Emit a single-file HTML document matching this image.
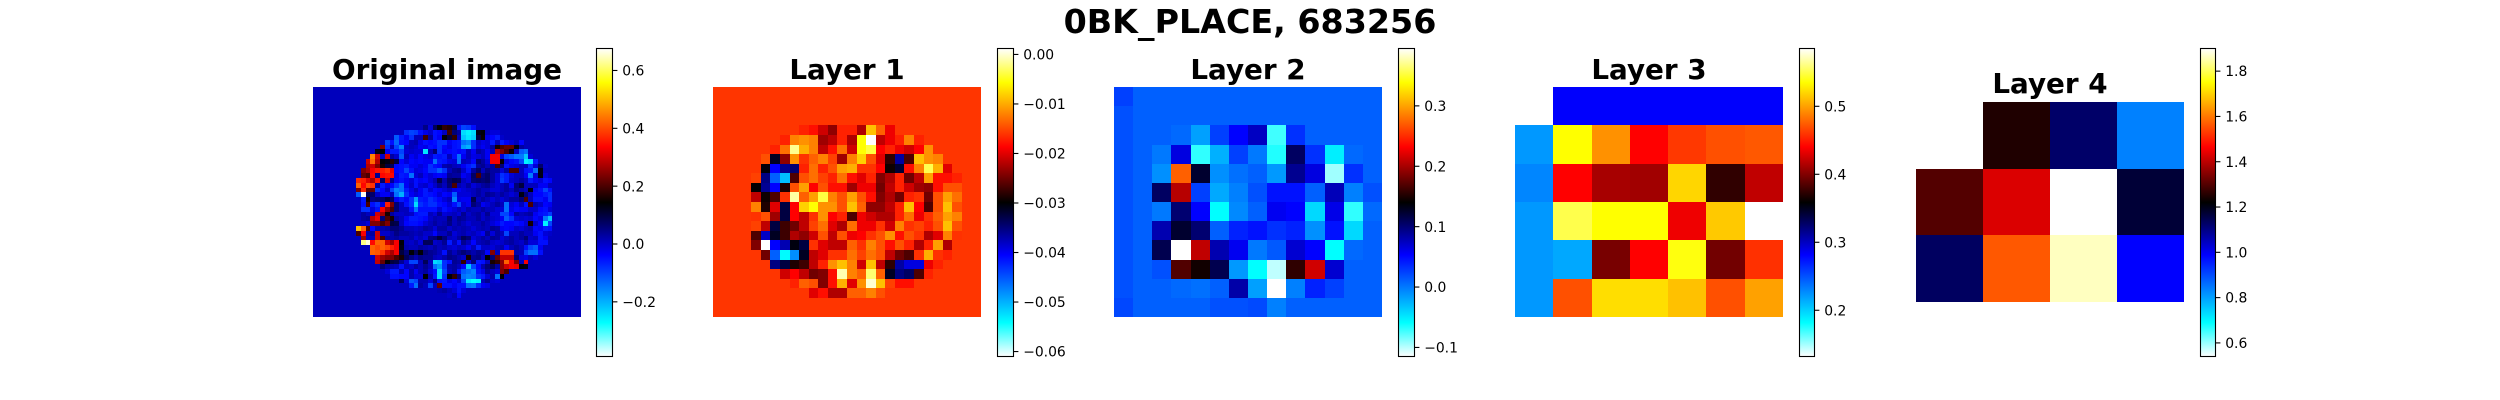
<!DOCTYPE html>
<html lang="en">
<head>
<meta charset="utf-8">
<title>0BK_PLACE, 683256</title>
<style>
html,body{margin:0;padding:0;background:#fff;width:2500px;height:400px;overflow:hidden}
svg{display:block}
text{font-family:"DejaVu Sans","Liberation Sans",sans-serif;fill:#000}
.title{font-weight:bold;font-size:27.8px;text-anchor:middle}
.sup{font-weight:bold;font-size:33.3px;text-anchor:middle}
.tick{font-size:13.9px}
</style>
</head>
<body>
<svg id="figure" width="2500" height="400" viewBox="0 0 2500 400" xmlns="http://www.w3.org/2000/svg">
<defs id="defs"></defs>
<text class="sup" x="1250" y="33">0BK_PLACE, 683256</text>
<text class="title" x="447" y="79">Original image</text>
<text class="title" x="847" y="79">Layer 1</text>
<text class="title" x="1248" y="79">Layer 2</text>
<text class="title" x="1649" y="79">Layer 3</text>
<text class="title" x="2050" y="93">Layer 4</text>
</svg>
<script>
// ---- Data: values ----
// Original image: 48 rows x 56 columns, values in hundredths. Cells outside a listed run hold the background value.
var originalBackground = 1;
var originalRowFirstRow = 8;
var originalRowStart = [21,19,17,15,14,13,12,11,11,10,10,9,9,9,9,10,10,10,10,10,10,9,9,10,10,12,12,13,13,14,15,16,18,20,25,27];
var originalRows = [
[1,1,5,-1,8,14,18,17,9,-5,-10,-9,-5],
[-8,-10,-9,-5,-2,0,-5,-4,1,19,6,3,-24,-26,-24,13,14,1,-1,-1],
[-12,-6,-3,-8,1,1,19,3,-5,-3,14,10,18,1,-22,-25,-23,10,15,-2,-4,-6,0],
[-10,-5,-13,-5,-4,1,2,-2,-5,-4,-5,-8,-8,-3,-5,-6,-14,-16,-8,0,-2,-1,-6,1,-6,-3,-1,1,-4],
[24,-8,1,-10,-16,0,1,0,-3,-2,-5,-4,-8,-4,-2,-5,-6,-18,-20,-8,-1,-3,-1,3,16,20,22,22,13,3],
[13,14,-3,-6,-6,-10,-1,0,-1,-1,-25,1,6,-8,-3,-4,-5,-4,-5,1,-3,3,1,-3,1,28,24,20,15,1,-12,-14],
[45,30,0,30,3,0,-12,1,-3,-1,-4,-2,-1,-6,-5,-6,1,-5,-14,-3,1,-2,-1,1,-3,33,33,-1,-10,-12,-15,-15,-22,-1],
[30,43,28,14,13,17,10,-4,-1,-4,-3,-4,-3,-3,-14,-6,-5,-2,-1,-14,1,0,-4,6,3,-1,33,33,15,-1,-4,-5,-10,-26,-24,-6],
[28,30,24,16,10,8,-4,-5,-6,-3,-3,-1,-3,-8,-5,-4,2,3,1,0,-3,-6,-8,3,4,1,3,20,6,-5,-2,-1,1,1,-8,-1,7,0],
[24,27,33,35,36,38,32,-4,-5,-10,-5,-1,-2,-4,-8,-8,-12,-8,1,4,5,0,-5,3,7,1,5,3,3,-1,3,20,20,1,-5,-6,-14,13,1],
[22,20,34,4,34,35,34,-2,-6,-5,-14,-1,1,-3,-1,-3,-4,-3,4,3,3,-3,-1,7,20,5,7,3,-1,-8,-6,-1,1,1,-3,-15,-1,13,-1],
[37,36,31,27,35,7,30,4,-3,-5,-3,-1,-5,-3,-4,-1,2,9,2,7,9,8,1,-1,6,7,6,7,3,-1,-9,-6,0,1,3,1,-6,-3,-1,-5,-4],
[42,34,40,38,3,-6,-2,-4,-9,-14,-3,0,-5,-1,0,-3,0,4,1,6,20,2,0,3,-1,1,3,4,1,-1,1,3,-3,6,10,1,1,1,-3,-3,1],
[24,37,22,22,-8,-4,1,-10,-16,-14,-6,-2,1,-3,-6,-1,-4,-3,-1,1,-2,-3,-1,0,1,3,1,1,-1,-1,1,3,1,5,3,1,14,-3,-5,-10,-5],
[-12,67,8,7,0,-3,-3,1,-14,-20,-8,-3,-1,-3,-6,-5,-4,-1,-4,-3,-12,-1,-1,-1,1,3,1,4,3,1,3,1,-1,1,13,6,1,-4,-4,-6,-8],
[-6,16,5,6,7,10,7,-3,-6,-4,-8,-18,-6,-5,-8,-6,-4,-1,1,-16,-2,-3,-3,9,1,3,1,-1,1,-1,1,3,3,6,20,1,-5,-5,-3,-8],
[-5,20,-5,-8,-1,36,24,6,1,-5,-8,-24,-8,-6,-8,-8,-5,-4,-1,-5,-10,-1,-3,6,3,-3,-1,1,3,1,-14,-1,-3,1,-5,20,2,0,-4,-3],
[-8,-8,-1,-5,33,25,20,6,1,1,-5,-14,-5,-5,-5,-5,-1,-5,-3,-1,1,-1,2,1,1,3,1,1,-1,-1,-14,-2,-4,-3,-3,0,0,-4,-5,-1],
[3,1,1,30,27,16,3,0,0,1,0,-5,-6,-6,1,-1,4,-1,0,1,-1,4,0,2,3,0,4,-1,-1,-10,-10,-4,3,1,2,3,-3,-5,-6,-9],
[3,4,28,32,6,20,16,3,1,-3,-6,-6,-5,-4,0,2,1,1,6,1,4,3,1,1,3,0,2,0,-1,-3,-12,-8,-1,0,-1,0,-4,-2,-15,-22],
[1,-1,24,24,20,24,10,9,1,-4,-5,-5,-4,-1,1,3,1,2,5,1,3,1,-1,1,1,3,1,-1,-3,-6,-4,-4,-5,-4,-1,16,0,-4,-26,-10],
[50,42,20,-4,2,2,3,6,6,4,1,1,0,1,3,2,-1,3,3,0,2,1,2,1,-1,1,2,1,4,3,-3,-4,-3,0,-1,1,2,-4,-3,-6,-5],
[20,33,2,3,30,0,0,2,5,3,3,2,1,2,0,0,-4,1,1,4,-1,1,2,0,1,-1,-3,4,-1,3,1,-10,1,1,3,1,1,-3,-5,-1,0],
[26,1,1,30,20,3,2,3,1,1,2,-1,1,-1,5,6,10,6,1,0,3,8,6,-1,1,3,1,4,3,-1,1,3,1,3,6,0,1,-5,-3],
[62,66,34,42,42,30,26,33,14,1,0,2,-1,8,8,0,1,4,-6,1,-5,4,1,-4,1,2,3,0,-1,0,2,3,1,0,3,-1,-1,-5,-5],
[42,40,42,40,36,33,13,2,1,1,3,2,1,3,1,2,0,-1,1,0,-3,1,-6,0,0,-1,1,2,-3,1,3,1,-5,-10,-12,-3],
[42,41,38,30,27,33,10,6,14,8,14,6,4,3,1,-5,4,1,4,6,4,2,4,3,-4,24,1,38,38,38,2,1,-10,-14,-14,-5],
[30,26,24,24,20,16,8,5,2,5,4,4,1,0,2,5,4,2,0,16,4,5,1,14,6,22,29,29,29,6,-1,-2,1,-1],
[29,22,14,10,9,4,-1,-10,-10,1,8,1,-24,-22,-8,-5,4,3,18,-1,6,-6,-5,1,16,18,25,42,33,24,1,33],
[6,3,2,1,-5,1,0,3,1,4,1,-14,-18,-8,2,3,1,-4,-22,-10,-4,2,6,8,3,25,30,33,32,14,13],
[-1,-6,-6,1,-4,2,-3,1,3,-1,-5,-24,-10,1,3,-5,-12,-14,-16,-5,-2,4,1,-1,24,20,1],
[-5,-5,-4,-4,2,-1,-1,14,2,-6,-24,-8,14,18,6,-14,-16,-15,-8,-6,-1,2,-14,14],
[8,-1,-12,-10,2,2,-1,5,-5,-6,-2,-4,-1,-10,-25,-27,-26,1,4,0,-1],
[-6,-14,3,1,-10,1,22,-5,-5,-3,-5,-5,-14,-15,-8,-3,-2],
[1,2,3,1,-1,-5,-1],
[1,0,2,-4]
];

// Layer 1: 24 rows x 28 columns, values in thousandths.
var layer1Background = -16;
var layer1FirstRow = 4;
var layer1RowStart = [9,7,6,5,5,4,4,4,4,4,4,4,4,5,6,7,8,10];
var layer1Rows = [
[-17,-18,-20.8,-23.6,-17,-17,-22.2,-8.8,-13.8,-19.4],
[-17,-12.1,-11.3,-12.1,-22.9,-21.5,-17,-22.2,-5.6,1.2,-21.5,-19.4,-17,-12.1,-17],
[-17,-13,-1.8,-9.7,-12.1,-21.5,-18,-13,-20.8,-5.6,-3.9,-18.7,-17,-19.4,-20.8,-18.7,-11.3],
[-14.6,-31.3,-23.6,-11.3,-16.2,-13.8,-12.1,-15.4,-22.9,-12.1,-8,-14.6,-20,-27.9,-36.6,-26.5,-8.8,-11.3,-12.1],
[-30.3,-40.5,-36,-34.6,-17,-13,-17,-14.6,-10.5,-9.7,-16.2,-16.2,-18.7,-29.3,-32,-18,-12.1,-3.5,-9.7,-20],
[-15.4,-35.3,-45.6,-50.7,-26.5,-14.6,-13,-15.4,-17,-13,-18,-20,-17,-24.3,-22.2,-17,-25,-21.5,-10.5,-18,-18,-17],
[-30,-36,-40.5,-28.6,-14.6,-10.5,-18.7,-14.6,-18,-18,-22.9,-19.4,-19.4,-25,-21.5,-17,-20.8,-22.9,-23.6,-18,-14.6,-14.6],
[-21.5,-29.3,-26.5,-16.2,-1.3,-13.8,-10.5,-3.9,-12.1,-14.6,-10.5,-14.6,-18,-24.3,-22.2,-25,-17,-16.2,-25,-14.6,-10.5,-13],
[-12.1,-28.6,-20,-32.6,-18.7,-8,-5.6,-11.3,-11.3,-14.6,-8.8,-13.8,-23.6,-23.6,-21.5,-17,-8.8,-18.7,-26.5,-14.6,-8.8,-14.6],
[-16.2,-14.6,-22.9,-32.6,-18.7,-21.5,-16.2,-11.3,-18.7,-17,-26.5,-19.4,-20.8,-22.2,-22.2,-17,-13,-19.4,-16.2,-13.8,-10.5,-12.1],
[-15.4,-21.5,-32.6,-27.2,-25,-21.5,-15.4,-13,-20,-22.2,-13,-19.4,-19.4,-16.2,-20.8,-12.1,-16.2,-15.4,-17,-14.6,-8.8,-14.6],
[-26.5,-38,-31.3,-27.2,-22.2,-23.6,-20.8,-14.6,-21.5,-14.6,-19.4,-18.7,-16.2,-14.6,-11.3,-18,-14.6,-16.2,-22.2,-20,-12.1,-16.2],
[-24.3,1.2,-40.5,-37.3,-30.5,-32.6,-16.2,-20,-21.5,-21.5,-13.8,-16.2,-12.1,-14.6,-18,-14.6,-17,-22.2,-17,-10.5,-22.2],
[-25,-45.6,-54,-48.1,-31.3,-21.5,-20,-16.2,-16.2,-13,-15.4,-13,-14.6,-21.5,-25,-26.5,-16.2,-9.7,-16.2,-17],
[-35.3,-32.6,-28.6,-27.2,-21.5,-17,-11.3,-8.8,-12.1,-20.8,-8.8,-21.5,-27.9,-36.6,-39.2,-39.2,-19.4,-17],
[-20.8,-18.7,-21.5,-25,-24.3,-18,-0.9,-12.1,-13.8,-2.6,-13.8,-31.3,-35.3,-34,-26.5,-17],
[-17,-13.8,-14.6,-24.3,-18,-9.7,-20,-11.3,0,-8.8,-15.4,-18,-18],
[-20,-18,-22.2,-22.2,-13.8,-13.8,-12.1,-14.6]
];

// Layer 2: 12 rows x 14 columns, values in hundredths.
var layer2Rows = [
[2.5,1.1,1.1,1.1,1.1,1.1,1.1,1.1,1.1,1.1,1.1,1.1,1.1,1.1],
[1.8,1.1,1.1,1.1,1.1,1.1,1.1,1.1,1.1,1.1,1.1,1.1,1.1,1.1],
[1.8,1.1,1.1,0.7,-1.7,2.5,5.3,7.4,-7.3,3.2,1.1,1.1,1.1,1.1],
[1.8,1.1,0,6.4,-6.95,-2.4,2.5,0,-6.6,10.7,3.2,-5.2,0.7,1.1],
[1.8,1.1,-1,27.2,12.4,-1,0.4,1.1,-1.4,9.1,6.4,-9.4,3.2,1.1],
[1.8,1.1,10.7,20.6,2.5,-2.1,-0.3,1.8,4.6,4.6,1.1,7.7,-0.3,1.8],
[1.8,1.1,0,10.2,5.3,-5.9,-0.7,1.1,5.8,5.3,-4.2,6.1,-6.95,0.7],
[1.8,1.1,8,12.4,10.2,1.1,3.9,4.6,3.2,3.9,-1,4.6,-4.2,1.1],
[1.8,1.1,11.3,39.5,20.9,8,5.8,0,1.4,6.9,5.3,-5.9,0.7,1.1],
[1.8,1.1,1.8,16.9,14.6,11.3,-1.4,-5.9,-10.1,15.7,21.5,6.9,1.1,1.1],
[1.8,1.1,1.1,0.7,0.4,1.1,8.3,-1.7,39.5,-0.3,3.9,2.5,1.1,1.1],
[2.2,1.1,1.1,1.1,1.1,1.8,1.8,2.1,-0.3,1.1,1.1,1.1,1.1,1.1]
];

// Layer 3: 6 rows x 7 columns, values in hundredths.
var layer3Rows = [
[58.5,28.2,28.2,28.2,28.2,28.2,28.2],
[22.2,53.5,49.4,44,46.1,47,47.3],
[22.9,44,41.2,41,52,37.4,42],
[22.2,55,53.5,53.5,43.5,51.5,58.5],
[22.2,21.6,39.7,44,53.8,39.5,45.8],
[22.2,47,52.3,52.3,51.2,47,50]
];

// Layer 4: 3 rows x 4 columns, values in plain units.
var layer4Rows = [
[1.9,1.25,1.126,0.838],
[1.3,1.43,1.9,1.17],
[1.133,1.563,1.863,0.989]
];

// Colour ranges (in plain units)
var originalRange = [-0.389,0.676];
var layer1Range = [-0.061,0.0012];
var layer2Range = [-0.115,0.395];
var layer3Range = [0.132,0.585];
var layer4Range = [0.54,1.9];

// Colour bar ticks
var originalTicks = [-0.2,0,0.2,0.4,0.6];
var originalTickLabels = ["\u22120.2","0.0","0.2","0.4","0.6"];
var layer1Ticks = [-0.06,-0.05,-0.04,-0.03,-0.02,-0.01,0];
var layer1TickLabels = ["\u22120.06","\u22120.05","\u22120.04","\u22120.03","\u22120.02","\u22120.01","0.00"];
var layer2Ticks = [-0.1,0,0.1,0.2,0.3];
var layer2TickLabels = ["\u22120.1","0.0","0.1","0.2","0.3"];
var layer3Ticks = [0.2,0.3,0.4,0.5];
var layer3TickLabels = ["0.2","0.3","0.4","0.5"];
var layer4Ticks = [0.6,0.8,1.0,1.2,1.4,1.6,1.8];
var layer4TickLabels = ["0.6","0.8","1.0","1.2","1.4","1.6","1.8"];

// Colormap: cold (low) to hot (high)
var cmapPositions = [0,0.11,0.33,0.5,0.68,0.89,1];
var cmapColors = [[255,255,255],[0,255,255],[0,0,255],[0,0,0],[255,0,0],[255,255,0],[255,255,255]];

var NS = "http://www.w3.org/2000/svg";
var svg = document.getElementById("figure");

function colorAt(f){
  f = Math.max(0,Math.min(1,f));
  for (var i=1;i<cmapPositions.length;i++){
    if (f<=cmapPositions[i]){
      var t=(f-cmapPositions[i-1])/(cmapPositions[i]-cmapPositions[i-1]);
      var a=cmapColors[i-1], b=cmapColors[i];
      return "rgb("+Math.round(a[0]+(b[0]-a[0])*t)+","+Math.round(a[1]+(b[1]-a[1])*t)+","+Math.round(a[2]+(b[2]-a[2])*t)+")";
    }
  }
  return "rgb(255,255,255)";
}

function expand(rows,starts,firstRow,nRows,nCols,bg){
  var out=[];
  for (var r=0;r<nRows;r++){
    var row=[];
    var src=rows[r-firstRow];
    var st=starts[r-firstRow];
    for (var c=0;c<nCols;c++){
      var v=bg;
      if (src && c>=st && c-st<src.length) v=src[c-st];
      row.push(v);
    }
    out.push(row);
  }
  return out;
}

var grad=document.createElementNS(NS,"linearGradient");
grad.setAttribute("id","cmapGradient");
grad.setAttribute("x1","0");grad.setAttribute("y1","1");grad.setAttribute("x2","0");grad.setAttribute("y2","0");


cmapPositions.forEach(function(p){
  var s=document.createElementNS(NS,"stop");
  s.setAttribute("offset",p);
  s.setAttribute("stop-color",colorAt(p));
  
  
  grad.appendChild(s);
});
document.getElementById("defs").appendChild(grad);

function drawPanel(p){
  var g=document.createElementNS(NS,"g");
  
  
  svg.appendChild(g);
  var nRows=p.values.length, nCols=p.values[0].length;
  var xScale=function(c){return Math.round(p.x0+(p.x1-p.x0)*c/nCols);};
  var yScale=function(r){return Math.round(p.y0+(p.y1-p.y0)*r/nRows);};
  var norm=function(v){return (v*p.unit-p.range[0])/(p.range[1]-p.range[0]);};
  var heat=document.createElementNS(NS,"g");
  
  
  heat.setAttribute("shape-rendering","crispEdges");
  g.appendChild(heat);
  for (var r=0;r<nRows;r++){
    for (var c=0;c<nCols;c++){
      var cell=document.createElementNS(NS,"rect");
      cell.setAttribute("x",xScale(c));
      cell.setAttribute("y",yScale(r));
      cell.setAttribute("width",xScale(c+1)-xScale(c));
      cell.setAttribute("height",yScale(r+1)-yScale(r));
      cell.setAttribute("fill",colorAt(norm(p.values[r][c])));
      
      
      heat.appendChild(cell);
    }
  }
  var cb=document.createElementNS(NS,"g");
  
  
  g.appendChild(cb);
  var bar=document.createElementNS(NS,"rect");
  bar.setAttribute("x",p.cbx0);
  bar.setAttribute("y",48.5);
  bar.setAttribute("width",p.cbx1-p.cbx0);
  bar.setAttribute("height",308);
  bar.setAttribute("fill","url(#cmapGradient)");
  bar.setAttribute("stroke","#000");
  bar.setAttribute("stroke-width","1.1");
  
  
  cb.appendChild(bar);
  var cbY=function(v){return 356.5-(v-p.range[0])/(p.range[1]-p.range[0])*308;};
  p.ticks.forEach(function(t,i){
    var y=cbY(t);
    var ln=document.createElementNS(NS,"line");
    ln.setAttribute("x1",p.cbx1);
    ln.setAttribute("x2",p.cbx1+4.9);
    ln.setAttribute("y1",y);
    ln.setAttribute("y2",y);
    ln.setAttribute("stroke","#000");
    ln.setAttribute("stroke-width","1.1");
    
    
    cb.appendChild(ln);
    var tx=document.createElementNS(NS,"text");
    tx.setAttribute("class","tick");
    tx.setAttribute("x",p.cbx1+9.7);
    tx.setAttribute("y",y+5.1);
    
    
    tx.textContent=p.tickLabels[i];
    cb.appendChild(tx);
  });
}

drawPanel({name:"original-image",x0:313,x1:581,y0:87,y1:317,
  values:expand(originalRows,originalRowStart,originalRowFirstRow,48,56,originalBackground),unit:0.01,
  range:originalRange,ticks:originalTicks,tickLabels:originalTickLabels,cbx0:596.5,cbx1:612.5});
drawPanel({name:"layer-1",x0:713,x1:981,y0:87,y1:317,
  values:expand(layer1Rows,layer1RowStart,layer1FirstRow,24,28,layer1Background),unit:0.001,
  range:layer1Range,ticks:layer1Ticks,tickLabels:layer1TickLabels,cbx0:997.5,cbx1:1013.5});
drawPanel({name:"layer-2",x0:1114,x1:1382,y0:87,y1:317,
  values:layer2Rows,unit:0.01,
  range:layer2Range,ticks:layer2Ticks,tickLabels:layer2TickLabels,cbx0:1398.5,cbx1:1414.5});
drawPanel({name:"layer-3",x0:1515,x1:1783,y0:87,y1:317,
  values:layer3Rows,unit:0.01,
  range:layer3Range,ticks:layer3Ticks,tickLabels:layer3TickLabels,cbx0:1799.5,cbx1:1814.5});
drawPanel({name:"layer-4",x0:1916,x1:2184,y0:102,y1:302,
  values:layer4Rows,unit:1,
  range:layer4Range,ticks:layer4Ticks,tickLabels:layer4TickLabels,cbx0:2200.5,cbx1:2215.5});
</script>
</body>
</html>
